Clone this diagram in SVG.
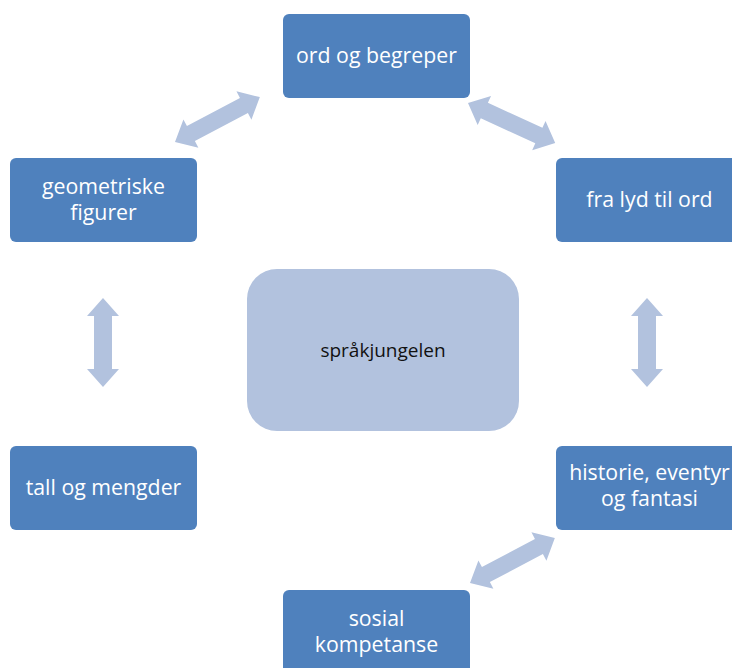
<svg xmlns="http://www.w3.org/2000/svg" width="732" height="668" viewBox="0 0 732 668">
<style>
.box{fill:#4F81BD}
.center{fill:#B2C2DE}
.arrow{fill:#B2C2DE}
.lbl{font-family:"Open Sans","Liberation Sans",sans-serif;font-size:21.3px;fill:#FFFFFF;text-anchor:middle}
.clbl{font-family:"Open Sans","Liberation Sans",sans-serif;font-size:19px;fill:#111111;text-anchor:middle}
</style>
<defs>
<path id="dbl" d="M0,0 L18,-16 L18,-8.5 L78,-8.5 L78,-16 L96,0 L78,16 L78,8.5 L18,8.5 L18,16 Z"/>
<path id="dblv" d="M0,0 L18,-16 L18,-9 L71,-9 L71,-16 L89,0 L71,16 L71,9 L18,9 L18,16 Z"/>
</defs>
<rect width="732" height="668" fill="#FFFFFF"/>
<g id="connectors" class="arrow">
<use href="#dbl" transform="translate(175,142) rotate(-27.9)"/>
<use href="#dbl" transform="translate(468,103) rotate(24.7)"/>
<use href="#dblv" transform="translate(103,298) rotate(90)"/>
<use href="#dblv" transform="translate(647,298) rotate(90)"/>
<use href="#dbl" transform="translate(470,583) rotate(-27.9)"/>
</g>
<g id="center">
<rect class="center" x="247" y="269" width="272" height="162" rx="30"/>
<text class="clbl" x="383" y="357">språkjungelen</text>
</g>
<g id="ord">
<rect class="box" x="283" y="14" width="187" height="84" rx="6"/>
<text class="lbl" x="376.5" y="63">ord og begreper</text>
</g>
<g id="geometriske">
<rect class="box" x="10" y="158" width="187" height="84" rx="6"/>
<text class="lbl" x="103.5" y="194">geometriske</text>
<text class="lbl" x="103.5" y="220">figurer</text>
</g>
<g id="fralyd">
<rect class="box" x="556" y="158" width="187" height="84" rx="6"/>
<text class="lbl" x="649.5" y="207">fra lyd til ord</text>
</g>
<g id="tall">
<rect class="box" x="10" y="446" width="187" height="84" rx="6"/>
<text class="lbl" x="103.5" y="495">tall og mengder</text>
</g>
<g id="historie">
<rect class="box" x="556" y="446" width="187" height="84" rx="6"/>
<text class="lbl" x="649.5" y="480">historie, eventyr</text>
<text class="lbl" x="649.5" y="506">og fantasi</text>
</g>
<g id="sosial">
<rect class="box" x="283" y="590" width="187" height="84" rx="6"/>
<text class="lbl" x="376.5" y="626">sosial</text>
<text class="lbl" x="376.5" y="652">kompetanse</text>
</g>
</svg>
